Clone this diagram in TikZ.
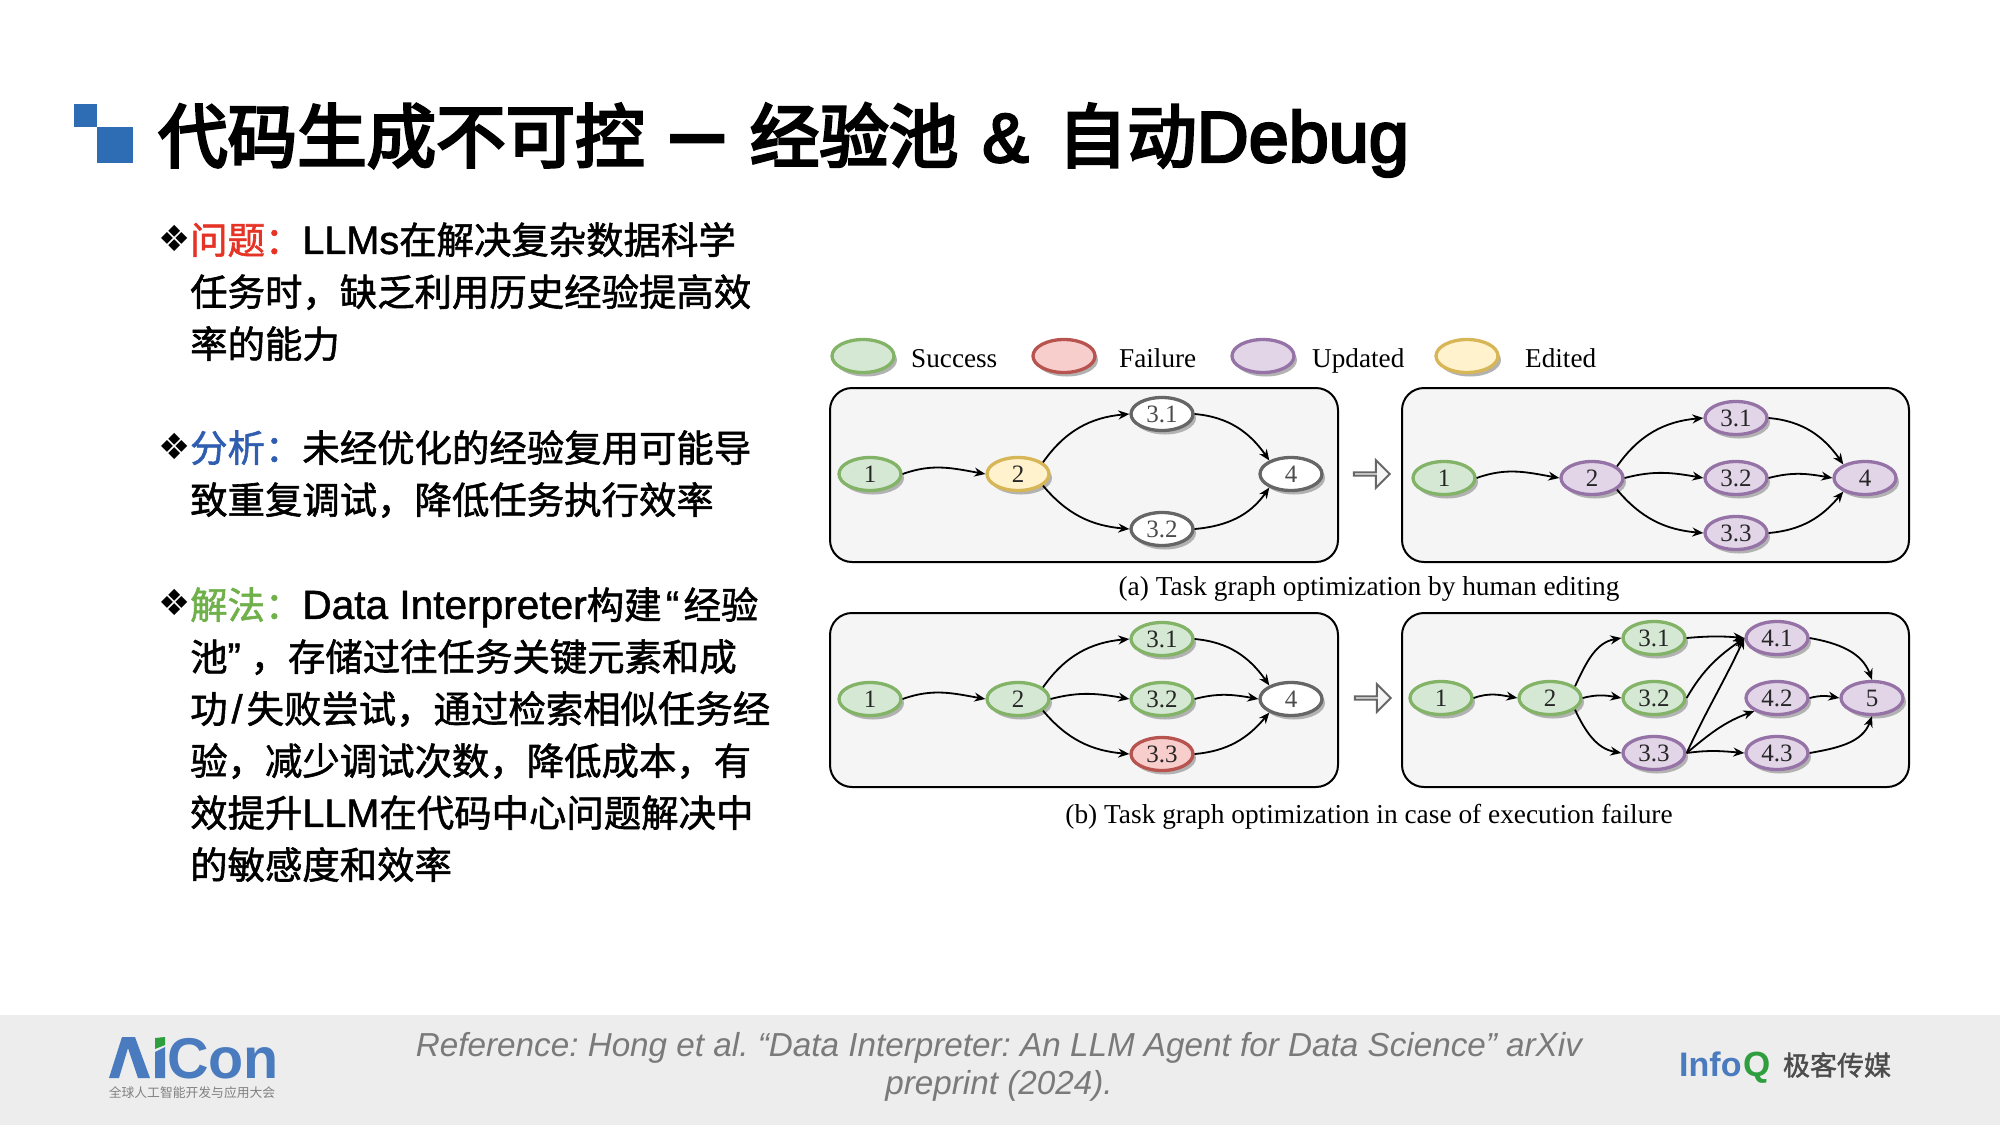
\documentclass[tikz,border=0pt]{standalone}
\usepackage{xcolor}
\usepackage{fontspec}
\setmainfont{Noto Sans CJK SC}
\newfontfamily\bodyf{Noto Sans CJK SC}[FakeBold=1.5]
\newfontfamily\headf{Noto Sans CJK SC}[FakeBold=4]
\newfontfamily\lat{Liberation Sans}
\newfontfamily\latb{Liberation Sans}[FakeBold=1.2]
\newfontfamily\lath{Liberation Sans}[FakeBold=3.5]
\newfontfamily\ser{Liberation Serif}
\newfontfamily\sym{DejaVu Sans}
\usepackage{tikz}
\usetikzlibrary{arrows.meta, shapes.geometric, shapes.arrows, shadows}
\definecolor{iconBlue}{HTML}{2E6DB4}
\definecolor{logoBlue}{HTML}{4A7BBE}
\definecolor{logoGreen}{HTML}{2E9E3E}
\definecolor{askRed}{HTML}{E53325}
\definecolor{whyBlue}{HTML}{2F5DB0}
\definecolor{fixGreen}{HTML}{6FB04A}
\newcommand{\la}[2][39.6]{{\latb\fontsize{#1}{52}\selectfont #2}}
\tikzstyle{baseNode} = [ellipse, draw, line width=3.3pt, minimum width=62pt, minimum height=33pt,
   inner sep=0pt, font=\ser\fontsize{25}{25}\selectfont, text=black!85,
   drop shadow={shadow xshift=3pt, shadow yshift=-4pt, fill=black!30, opacity=1}]
\tikzstyle{okNode} = [baseNode, fill={rgb,255:red,213;green,232;blue,212}, draw={rgb,255:red,130;green,179;blue,102}]
\tikzstyle{badNode} = [baseNode, fill={rgb,255:red,248;green,206;blue,204}, draw={rgb,255:red,184;green,84;blue,80}]
\tikzstyle{updNode} = [baseNode, fill={rgb,255:red,225;green,213;blue,231}, draw={rgb,255:red,150;green,115;blue,166}]
\tikzstyle{editNode} = [baseNode, fill={rgb,255:red,255;green,242;blue,204}, draw={rgb,255:red,214;green,182;blue,86}]
\tikzstyle{plainNode} = [baseNode, fill=white, text=black!70, draw={rgb,255:red,102;green,102;blue,102}]
\tikzstyle{panel} = [draw, line width=2pt, fill={rgb,255:red,245;green,245;blue,245}, rounded corners=22pt]
\tikzstyle{flow} = [line width=1.8pt, -{Stealth[length=11pt,width=9pt]}]
\tikzstyle{legendText} = [anchor=base west, inner sep=0pt, font=\ser\fontsize{27.2}{27}\selectfont]
\tikzstyle{capText} = [anchor=base, inner sep=0pt, font=\ser\fontsize{27.35}{27}\selectfont]
\tikzstyle{bigArrow} = [single arrow, draw={rgb,255:red,102;green,102;blue,102}, fill={rgb,255:red,245;green,245;blue,245}, line width=2pt, minimum height=36pt, minimum width=28pt,
   single arrow head extend=8pt, single arrow head indent=0pt, inner sep=0pt]
\tikzstyle{bodyText} = [anchor=north west, inner sep=0pt, align=left, font=\bodyf\fontsize{37.4}{52}\selectfont]
\tikzstyle{bullet} = [anchor=center, inner sep=0pt, font=\sym\fontsize{36}{36}\selectfont]
\begin{document}
\frenchspacing
\begin{tikzpicture}[x=1pt,y=-1pt]
  \useasboundingbox (0,0) rectangle (2000,1125);
  \fill[iconBlue] (74,104) rectangle (97,127);
  \fill[iconBlue] (97,127) rectangle (133,163);
  \node[anchor=west,inner sep=0pt,font=\headf\fontsize{69.5}{70}\selectfont] at (158,140)(title){代码生成不可控\hspace{27pt}{\lath\fontsize{92}{70}\selectfont –}\hspace{27pt}经验池\hspace{24pt}{\lath\&}\hspace{29pt}自动{\lath\fontsize{72}{70}\selectfont Debug}};

  \node[bullet] at (175,238)(b1){❖};
  \node[bullet] at (175,446)(b2){❖};
  \node[bullet] at (175,602)(b3){❖};
  \node[bodyText] at (190,222)(t1){\textcolor{askRed}{问题：}\la{LLMs}在解决复杂数据科学\\任务时，缺乏利用历史经验提高效\\率的能力};
  \node[bodyText] at (190,430)(t2){\textcolor{whyBlue}{分析：}未经优化的经验复用可能导\\致重复调试，降低任务执行效率};
  \node[bodyText] at (190,587)(t3){\textcolor{fixGreen}{解法：}\la[40.6]{Data Interpreter}构建\makebox[22pt][c]{\la{“}}经验\\池\makebox[23pt][l]{\la{”}}，存储过往任务关键元素和成\\功\makebox[19pt][c]{\la{/}}失败尝试，通过检索相似任务经\\验，减少调试次数，降低成本，有\\效提升\la{LLM}在代码中心问题解决中\\的敏感度和效率};

  \node[okNode] at (863,356)(l1){};
  \node[legendText] at (911,367)(s1){Success};
  \node[badNode] at (1064,356)(l2){};
  \node[legendText] at (1119,367)(s2){Failure};
  \node[updNode] at (1263,356)(l3){};
  \node[legendText] at (1312,367)(s3){Updated};
  \node[editNode] at (1467,356)(l4){};
  \node[legendText] at (1525,367)(s4){Edited};

  \draw[panel] (830,388) rectangle (1338,562);
  \draw[panel] (1402,388) rectangle (1909,562);
  \draw[panel] (830,613) rectangle (1338,787);
  \draw[panel] (1402,613) rectangle (1909,787);
  \node[bigArrow] at (1371,474)(ab){};
  \node[bigArrow] at (1372,698)(cd){};
  \node[capText] at (1369,595)(capa){(a) Task graph optimization by human editing};
  \node[capText] at (1369,823)(capb){(b) Task graph optimization in case of execution failure};

  \node[okNode] at (870,474)(a1){1};
  \node[editNode] at (1018,474)(a2){2};
  \node[plainNode] at (1162,414)(a31){3.1};
  \node[plainNode] at (1162,529)(a32){3.2};
  \node[plainNode] at (1291,474)(a4){4};
  \draw[flow] (a1.east) to[out=20,in=170] (a2.west);
  \draw[flow] (a2.25) to[out=55,in=185] (a31.west);
  \draw[flow] (a2.-25) to[out=-50,in=175] (a32.west);
  \draw[flow] (a31.east) to[out=-5,in=125] (a4.148);
  \draw[flow] (a32.east) to[out=5,in=-125] (a4.-148);

  \node[okNode] at (1444,478)(b1n){1};
  \node[updNode] at (1592,478)(b2n){2};
  \node[updNode] at (1736,418)(b31){3.1};
  \node[updNode] at (1736,478)(b32){3.2};
  \node[updNode] at (1736,533)(b33){3.3};
  \node[updNode] at (1865,478)(b4n){4};
  \draw[flow] (b1n.east) to[out=20,in=170] (b2n.west);
  \draw[flow] (b2n.25) to[out=55,in=185] (b31.west);
  \draw[flow] (b2n.east) to[out=15,in=170] (b32.west);
  \draw[flow] (b2n.-25) to[out=-50,in=175] (b33.west);
  \draw[flow] (b31.east) to[out=-5,in=125] (b4n.148);
  \draw[flow] (b32.east) to[out=15,in=170] (b4n.west);
  \draw[flow] (b33.east) to[out=5,in=-130] (b4n.-148);

  \node[okNode] at (870,699)(c1){1};
  \node[okNode] at (1018,699)(c2){2};
  \node[okNode] at (1162,639)(c31){3.1};
  \node[okNode] at (1162,699)(c32){3.2};
  \node[badNode] at (1162,754)(c33){3.3};
  \node[plainNode] at (1291,699)(c4){4};
  \draw[flow] (c1.east) to[out=20,in=170] (c2.west);
  \draw[flow] (c2.25) to[out=55,in=185] (c31.west);
  \draw[flow] (c2.east) to[out=15,in=170] (c32.west);
  \draw[flow] (c2.-25) to[out=-50,in=175] (c33.west);
  \draw[flow] (c31.east) to[out=-5,in=125] (c4.148);
  \draw[flow] (c32.east) to[out=15,in=170] (c4.west);
  \draw[flow] (c33.east) to[out=5,in=-130] (c4.-148);

  \node[okNode] at (1441,698)(d1){1};
  \node[okNode] at (1550,698)(d2){2};
  \node[okNode] at (1654,638)(d31){3.1};
  \node[okNode] at (1654,698)(d32){3.2};
  \node[updNode] at (1654,753)(d33){3.3};
  \node[updNode] at (1777,638)(d41){4.1};
  \node[updNode] at (1777,698)(d42){4.2};
  \node[updNode] at (1777,753)(d43){4.3};
  \node[updNode] at (1872,698)(d5){5};
  \draw[flow] (d1.east) to[out=20,in=170] (d2.west);
  \draw[flow] (d2.25) to[out=65,in=190] (d31.west);
  \draw[flow] (d2.east) to[out=15,in=170] (d32.west);
  \draw[flow] (d2.-25) to[out=-65,in=170] (d33.west);
  \draw[flow] (d31.east) to[out=5,in=175] (d41.west);
  \draw[flow] (d32.east) to[out=60,in=215] (d41.west);
  \draw[flow] (d33.east) to[out=65,in=245] (d41.west);
  \draw[flow] (d33.east) to[out=40,in=200] (d42.210);
  \draw[flow] (d33.east) to[out=8,in=175] (d43.west);
  \draw[flow] (d41.east) to[out=-10,in=110] (d5.north);
  \draw[flow] (d42.east) to[out=15,in=170] (d5.west);
  \draw[flow] (d43.east) to[out=10,in=-110] (d5.south);

  \fill[black!7] (0,1015) rectangle (2000,1125);
  \node[inner sep=0pt,align=center,text=black!52,font=\lat\itshape\fontsize{33.25}{38.5}\selectfont] at (999,1067)(ref){Reference: Hong et al. “Data Interpreter: An LLM Agent for Data Science” arXiv\\preprint (2024).};

  \fill[logoBlue] (109,1078) -- (122,1037) -- (135,1037) -- (150,1078) -- (138,1078) -- (128,1048) -- (119,1078) -- cycle;
  \fill[logoGreen] (155,1038) -- (165,1037) -- (165,1045) -- (155,1049) -- cycle;
  \fill[logoBlue] (155,1052) -- (165,1047) -- (165,1078) -- (155,1078) -- cycle;
  \node[anchor=base west,inner sep=0pt,text=logoBlue,font=\lat\bfseries\fontsize{57.5}{56}\selectfont] at (167,1078)(con){Con};
  \node[anchor=center,inner sep=0pt,text=black!50,font=\fontsize{12.8}{13}\selectfont] at (192,1093)(sub){全球人工智能开发与应用大会};
  \node[anchor=base west,inner sep=0pt,text=logoBlue,font=\lat\bfseries\fontsize{34}{34}\selectfont] at (1679,1076)(info){Info};
  \node[anchor=base west,inner sep=0pt,text=logoGreen,font=\lat\bfseries\fontsize{35}{34}\selectfont] at (1743,1076)(q){Q};
  \node[anchor=center,inner sep=0pt,text=black!70,font=\bodyf\fontsize{27}{27}\selectfont] at (1837,1065)(geek){极客传媒};
\end{tikzpicture}
\end{document}
